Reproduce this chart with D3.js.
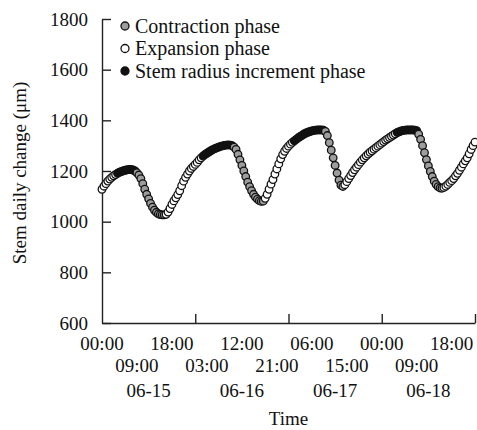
<!DOCTYPE html>
<html>
<head>
<meta charset="utf-8">
<script src="https://cdn.jsdelivr.net/npm/d3@7"></script>
<style>
  body { margin: 0; background: #fff; }
  svg, svg text { font-family: "Liberation Serif", "Times New Roman", serif; }
</style>
</head>
<body>
<svg id="chart" width="477" height="430"></svg>
<script>
// half-hourly readings, starting 06-15 00:00
const day1Values = [1128, 1140, 1150, 1160, 1168, 1175, 1181, 1186, 1191, 1195, 1198, 1201, 1203, 1205, 1206, 1206,
  1204, 1200, 1193, 1184, 1170, 1150, 1128, 1108, 1090, 1072, 1057, 1045, 1037, 1031, 1028, 1027,
  1027, 1029, 1038, 1052, 1068, 1082, 1094, 1107, 1122, 1142, 1160, 1175, 1188, 1200, 1210, 1218];
const day2Values = [1226, 1234, 1244, 1252, 1259, 1265, 1270, 1275, 1280, 1284, 1288, 1291, 1294, 1297, 1299, 1301,
  1302, 1303, 1302, 1300, 1294, 1285, 1266, 1244, 1222, 1200, 1178, 1156, 1138, 1122, 1108, 1097,
  1089, 1083, 1080, 1081, 1092, 1108, 1128, 1148, 1166, 1188, 1208, 1228, 1248, 1265, 1278, 1289];
const day3Values = [1298, 1306, 1313, 1319, 1325, 1331, 1336, 1341, 1346, 1350, 1353, 1356, 1358, 1360, 1361, 1362,
  1362, 1362, 1361, 1356, 1340, 1312, 1282, 1252, 1222, 1192, 1164, 1144, 1139, 1146, 1158, 1170,
  1182, 1194, 1205, 1215, 1225, 1235, 1244, 1252, 1260, 1267, 1274, 1280, 1286, 1292, 1298, 1304];
const day4Values = [1310, 1316, 1322, 1327, 1332, 1337, 1342, 1347, 1352, 1355, 1358, 1360, 1361, 1362, 1362, 1362,
  1362, 1361, 1359, 1345, 1325, 1300, 1272, 1245, 1220, 1198, 1178, 1160, 1147, 1138, 1133, 1132,
  1135, 1140, 1147, 1155, 1162, 1170, 1181, 1191, 1203, 1215, 1228, 1240, 1252, 1268, 1285, 1300, 1314];

// C = contraction, E = expansion, I = stem radius increment
const day1Phases = "EEEEEEEEIIIIIIIIIICCCCCCCCCCCCCCCEEEEEEEEEEEEEEE";
const day2Phases = "EEEEIIIIIIIIIIIIIIIICCCCCCCCCCCCCCCCEEEEEEEEEEEE";
const day3Phases = "EEEIIIIIIIIIIIIIIIICCCCCCCCCCEEEEEEEEEEEEEEEEEEE";
const day4Phases = "EEEEEEEEIIIIIIIIIIICCCCCCCCCCCCCEEEEEEEEEEEEEEEEE";

const yTicks = [600, 800, 1000, 1200, 1400, 1600, 1800];
const dayTicks = [24, 48, 72, 96];
const timeRow1 = [[0, "00:00"], [18, "18:00"], [36, "12:00"], [54, "06:00"], [72, "00:00"], [90, "18:00"]];
const timeRow2 = [[9, "09:00"], [27, "03:00"], [45, "21:00"], [63, "15:00"], [81, "09:00"]];
const dateLabels = [[12, "06-15"], [36, "06-16"], [60, "06-17"], [84, "06-18"]];
const legendItems = [["C", "Contraction phase"], ["E", "Expansion phase"], ["I", "Stem radius increment phase"]];

const fills = { C: "#9d9d9d", E: "#ffffff", I: "#111111" };

const margin = { top: 19, right: 2, bottom: 107, left: 102 };
const width = 477 - margin.left - margin.right;
const height = 430 - margin.top - margin.bottom;

const svg = d3.select("#chart");
const g = svg.append("g").attr("transform", `translate(${margin.left},${margin.top})`);

const values = [...day1Values, ...day2Values, ...day3Values, ...day4Values];
const phases = (day1Phases + day2Phases + day3Phases + day4Phases).split("");
const points = values.map((v, i) => ({ hour: i * 0.5, value: v, phase: phases[i] }));

const x = d3.scaleLinear().domain([0, 96]).range([0, width]);
const y = d3.scaleLinear().domain([600, 1800]).range([height, 0]);

// y axis, ticks inward
const yAxis = g.append("g")
  .call(d3.axisLeft(y).tickValues(yTicks).tickFormat(d3.format("d"))
    .tickSizeInner(-9).tickSizeOuter(0).tickPadding(14));
yAxis.attr("font-family", null);
yAxis.selectAll("text").style("font-size", "19px").attr("fill", "#111");

// x axis, day ticks inward
g.append("g")
  .attr("transform", `translate(0,${height})`)
  .call(d3.axisBottom(x).tickValues(dayTicks).tickSizeInner(-9).tickSizeOuter(0).tickFormat(""));

g.selectAll(".domain, .tick line").attr("stroke", "#222").attr("stroke-width", 1.4);

const labelRows = [[timeRow1, 27], [timeRow2, 49], [dateLabels, 74]];
labelRows.forEach(([rows, dy]) => {
  g.append("g").selectAll("text")
    .data(rows)
    .enter()
    .append("text")
    .attr("x", d => x(d[0]))
    .attr("y", height + dy)
    .attr("text-anchor", "middle")
    .attr("font-size", "19px")
    .attr("fill", "#111")
    .text(d => d[1]);
});

g.append("text")
  .attr("x", width / 2)
  .attr("y", height + 102)
  .attr("text-anchor", "middle")
  .attr("font-size", "19px")
  .attr("fill", "#111")
  .text("Time");

svg.append("text")
  .attr("transform", "translate(26,173) rotate(-90)")
  .attr("text-anchor", "middle")
  .attr("font-size", "19px")
  .attr("fill", "#111")
  .text("Stem daily change (μm)");

// data markers
g.append("g").selectAll("circle")
  .data(points)
  .enter()
  .append("circle")
  .attr("cx", d => x(d.hour))
  .attr("cy", d => y(d.value))
  .attr("r", 3.8)
  .attr("fill", d => fills[d.phase])
  .attr("stroke", "#111")
  .attr("stroke-width", 1.3);

// legend
const legend = g.append("g").attr("transform", "translate(23,7)");
const items = legend.selectAll("g")
  .data(legendItems)
  .enter()
  .append("g")
  .attr("transform", (d, i) => `translate(0,${i * 22.5})`);
items.append("circle")
  .attr("r", 4)
  .attr("fill", d => fills[d[0]])
  .attr("stroke", "#111")
  .attr("stroke-width", 1.3);
items.append("text")
  .attr("x", 10)
  .attr("y", 6.5)
  .attr("font-size", "20px")
  .attr("fill", "#111")
  .text(d => d[1]);
</script>
</body>
</html>
